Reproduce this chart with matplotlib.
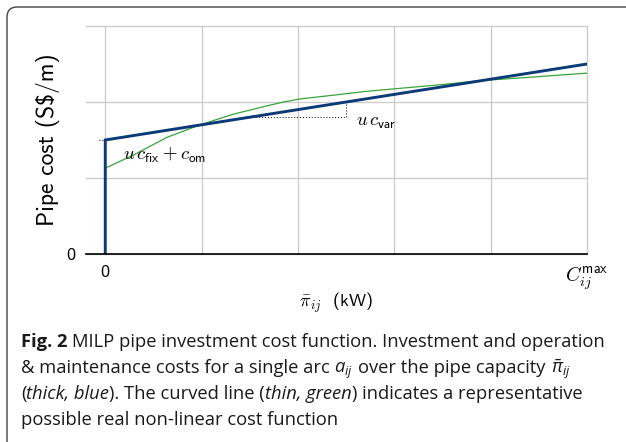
import matplotlib
matplotlib.use("Agg")
import matplotlib.pyplot as plt
from matplotlib.patches import FancyBboxPatch
from matplotlib.transforms import IdentityTransform

# piecewise-linear MILP cost (thick blue)
blue_x = [0, 0, 5]
blue_y = [0, 1.5, 2.5]

# representative non-linear cost (thin green)
green_x = [0, 0.29, 0.64, 0.985, 1.33, 1.68, 1.85, 2.02, 2.37, 2.71, 3.06, 3.5, 3.88, 4.4, 5.0]
green_y = [1.13, 1.30, 1.535, 1.70, 1.84, 1.95, 2.00, 2.04, 2.09, 2.14, 2.18, 2.23, 2.28, 2.325, 2.38]

# slope marker and offset marker (dotted)
slope_x = [1.5, 2.5, 2.5]
slope_y = [1.8, 1.8, 2.0]
offset_x = [-0.07, 0]
offset_y = [1.5, 1.5]

x_ticks = [0, 1, 2, 3, 4, 5]
x_labels = ["0", "", "", "", "", r"$C_{ij}^{\mathsf{max}}$"]
y_ticks = [0, 1, 2, 3]
y_labels = ["0", "", "", ""]

caption_lines = [
    [("Fig. 2", "bold", False),
     ("MILP pipe investment cost function. Investment and operation", "normal", True)],
    [("& maintenance costs for a single arc", "normal", False),
     (r"$a_{ij}$", "math", True),
     ("over the pipe capacity", "normal", True),
     (r"$\bar{\pi}_{ij}$", "math", True)],
    [("(", "normal", False), ("thick, blue", "italic", False),
     ("). The curved line (", "normal", False), ("thin, green", "italic", False),
     (") indicates a representative", "normal", False)],
    [("possible real non-linear cost function", "normal", False)],
]

W, H = 626, 442
BLUE = "#0b3a78"
GREEN = "#3aa33a"
CAP_FONT = "Open Sans"
CAP_SIZE = 13.2

plt.rcParams["mathtext.fontset"] = "custom"
plt.rcParams["mathtext.it"] = "Open Sans:italic"
plt.rcParams["mathtext.rm"] = "Open Sans"
plt.rcParams["mathtext.bf"] = "Open Sans:bold"
plt.rcParams["axes.unicode_minus"] = False

fig = plt.figure(figsize=(W / 100, H / 100), dpi=100)
ax = fig.add_axes([86 / W, 1 - 254 / H, (587 - 86) / W, (254 - 26) / H])

ax.plot(green_x, green_y, color=GREEN, lw=0.9, zorder=3)
ax.plot(blue_x, blue_y, color=BLUE, lw=2.1, zorder=4, solid_joinstyle="miter")
ax.plot(slope_x, slope_y, color="black", lw=0.7, ls=(0, (1, 2)), zorder=2)
ax.plot(offset_x, offset_y, color="black", lw=0.7, ls=(0, (1, 2)), zorder=2, clip_on=False)

ax.text(0.18, 1.30, r"$u\,c_{\mathsf{fix}} + c_{\mathsf{om}}$", fontsize=13.5,
        va="center", ha="left", math_fontfamily="cm", zorder=5)
ax.text(2.6, 1.74, r"$u\,c_{\mathsf{var}}$", fontsize=13.5,
        va="center", ha="left", math_fontfamily="cm", zorder=5)

ax.set_xlim(-0.2, 5)
ax.set_ylim(0, 3)
ax.set_xticks(x_ticks)
ax.set_xticklabels(x_labels)
ax.set_yticks(y_ticks)
ax.set_yticklabels(y_labels)
for lab in ax.get_xticklabels() + ax.get_yticklabels():
    lab.set_fontfamily("cmss10")
    lab.set_fontsize(13)
    lab.set_math_fontfamily("cm")
ax.get_xticklabels()[-1].set_fontsize(14.5)
ax.tick_params(length=0, pad=8)
ax.grid(True, color="#cccccc", lw=1.0)
for gl in ax.get_xgridlines() + ax.get_ygridlines():
    gl.set_clip_on(False)
for side in ["left", "right", "top"]:
    ax.spines[side].set_visible(False)
ax.spines["bottom"].set_color("black")
ax.spines["bottom"].set_linewidth(1.2)
ax.spines["bottom"].set_zorder(6)

ax.set_ylabel(r"Pipe cost (S\$/m)", fontfamily="cmss10", fontsize=17, labelpad=4)
ax.set_xlabel(r"$\bar{\pi}_{ij}$  (kW)", fontfamily="cmss10", fontsize=13,
              math_fontfamily="cm", labelpad=-1)

# frame around the figure panel
frame = FancyBboxPatch((7, -60), 700, (H - 7) + 60,
                       boxstyle="round,pad=0,rounding_size=10",
                       transform=IdentityTransform(), facecolor="none",
                       edgecolor="#444444", lw=1.0)
fig.add_artist(frame)

# caption, drawn run by run
fig.canvas.draw()
renderer = fig.canvas.get_renderer()
probe = fig.text(0, 0, "a a", fontfamily=CAP_FONT, fontsize=CAP_SIZE)
w2 = probe.get_window_extent(renderer).width
probe.set_text("aa")
w1 = probe.get_window_extent(renderer).width
probe.remove()
space = w2 - w1

baselines = [347, 373, 399, 425]
for line, base in zip(caption_lines, baselines):
    x = 21
    for text, style, gap in line:
        if style == "bold":
            kw = dict(fontweight="bold")
        elif style == "italic":
            kw = dict(fontstyle="italic")
        elif style == "math":
            kw = dict(math_fontfamily="custom")
        else:
            kw = {}
        if gap:
            x += space
        t = fig.text(x / W, 1 - base / H, text, fontfamily=CAP_FONT, fontsize=CAP_SIZE,
                     va="baseline", ha="left", color="#1a1a1a", **kw)
        x += t.get_window_extent(renderer).width

fig.savefig("out.png", dpi=100)
